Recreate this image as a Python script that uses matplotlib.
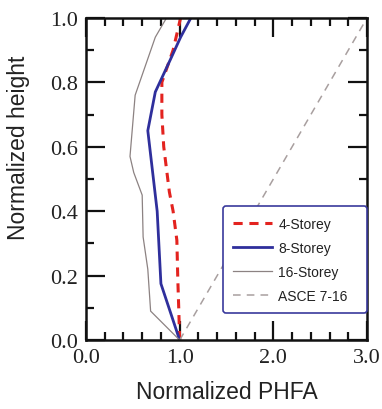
import numpy as np
import matplotlib
matplotlib.use('Agg')
from matplotlib import pyplot as plt
from matplotlib.ticker import MultipleLocator

# normalized height / normalized PHFA
h_4 = [0.0, 0.1, 0.19, 0.31, 0.40, 0.46, 0.60, 0.70, 0.80, 0.90, 1.0]
x_4 = [1.0, 0.99, 0.98, 0.97, 0.93, 0.89, 0.83, 0.81, 0.81, 0.93, 1.01]

h_8 = [0.0, 0.175, 0.40, 0.55, 0.65, 0.77, 0.87, 0.94, 1.0]
x_8 = [1.0, 0.80, 0.76, 0.70, 0.66, 0.74, 0.90, 1.01, 1.12]

h_16 = [0.0, 0.09, 0.22, 0.32, 0.45, 0.52, 0.57, 0.76, 0.94, 1.0]
x_16 = [1.0, 0.69, 0.66, 0.61, 0.60, 0.51, 0.47, 0.525, 0.74, 0.86]

h_asce = [0.0, 1.0]
x_asce = [1.0, 3.0]

fig = plt.figure(figsize=(3.82, 4.10), dpi=100)
ax = fig.add_axes([0.225, 0.168, 0.736, 0.786])

ax.plot(x_4, h_4, color='#e3231f', lw=2.2, ls=(0, (3, 2.2)), label='4-Storey')
ax.plot(x_8, h_8, color='#2f2f9c', lw=2.0, label='8-Storey')
ax.plot(x_16, h_16, color='#8c8282', lw=0.9, label='16-Storey')
ax.plot(x_asce, h_asce, color='#a89f9f', lw=1.1, ls=(0, (5, 4)), label='ASCE 7-16')

ax.set_xlim(0, 3)
ax.set_ylim(0, 1)
ax.xaxis.set_major_locator(MultipleLocator(1.0))
ax.xaxis.set_minor_locator(MultipleLocator(0.2))
ax.yaxis.set_major_locator(MultipleLocator(0.2))
ax.yaxis.set_minor_locator(MultipleLocator(0.1))
ax.xaxis.set_major_formatter(matplotlib.ticker.FormatStrFormatter('%.1f'))
ax.yaxis.set_major_formatter(matplotlib.ticker.FormatStrFormatter('%.1f'))

ax.tick_params(which='both', direction='in', top=True, right=True, width=1.6, color='#111111')
ax.tick_params(which='major', length=13.5)
ax.tick_params(which='minor', length=5.5)
ax.tick_params(axis='x', pad=6)
ax.tick_params(axis='y', pad=6)
for lab in ax.get_xticklabels() + ax.get_yticklabels():
    lab.set_fontfamily('Liberation Serif')
    lab.set_fontsize(16)
    lab.set_color('#222222')
for s in ax.spines.values():
    s.set_linewidth(1.8)
    s.set_color('#111111')

ax.set_xlabel('Normalized PHFA', fontfamily='Liberation Sans', fontsize=16.5,
              color='#222222', labelpad=9)
ax.set_ylabel('Normalized height', fontfamily='Liberation Sans', fontsize=16.5,
              color='#222222')
ax.yaxis.set_label_coords(-0.20, 0.60)

leg = ax.legend(loc='lower left', bbox_to_anchor=(0.487, 0.084, 0.513, 0.335),
                mode='expand', prop={'family': 'Liberation Sans', 'size': 10},
                handlelength=2.8, handletextpad=0.45, labelspacing=0.72,
                borderpad=0.75, fancybox=True, framealpha=1, borderaxespad=0)
leg.get_frame().set_edgecolor('#3a3a9c')
leg.get_frame().set_linewidth(1.2)
for t in leg.get_texts():
    t.set_color('#222222')

fig.savefig('out.png', dpi=100)
